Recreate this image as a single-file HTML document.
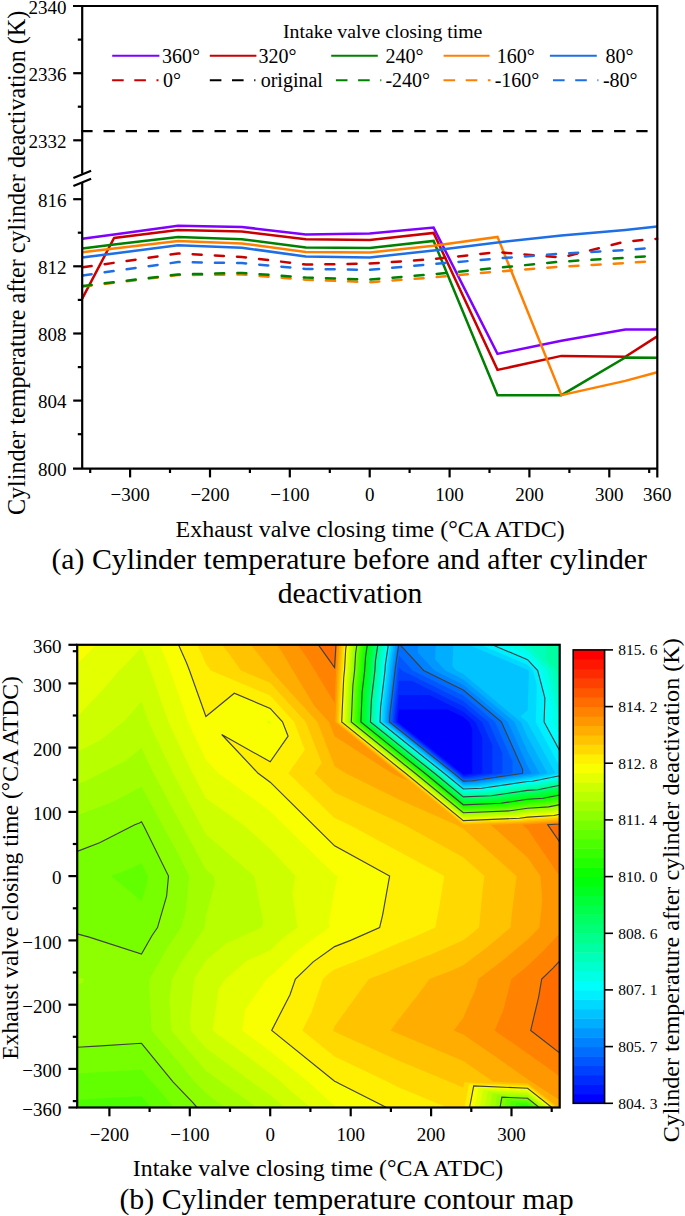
<!DOCTYPE html>
<html><head><meta charset="utf-8"><style>
html,body{margin:0;padding:0;background:#fff;width:685px;height:1216px;overflow:hidden;}
svg{display:block;}
text{font-family:"Liberation Serif",serif;}
</style></head><body>
<svg width="685" height="1216" viewBox="0 0 685 1216">
<rect width="685" height="1216" fill="#fff"/>
<g fill="none" stroke-width="2.5" stroke-linejoin="miter">
<polyline stroke="#8000ff" points="82.2,238.7 114.1,234.4 178,225.8 241.9,227 305.8,234.4 369.7,233.5 433.6,227.6 497.5,353.9 561.4,340.8 625.3,329.4 657.2,329.4"/>
<polyline stroke="#c80000" points="82.2,298.6 114.1,237.9 178,230 241.9,231.6 305.8,239.3 369.7,240.1 433.6,232.9 497.5,369.9 561.4,355.9 625.3,356.7 657.2,336.4"/>
<polyline stroke="#008000" points="82.2,248.4 114.1,244.6 178,236.9 241.9,239.3 305.8,247.4 369.7,248 433.6,240.9 497.5,395.2 561.4,395.2 625.3,357.5 657.2,357.8"/>
<polyline stroke="#ff8000" points="82.2,252.3 114.1,248.5 178,240.9 241.9,243.4 305.8,251.9 369.7,252.6 433.6,245.8 497.5,236.9 561.4,395.1 625.3,380.9 657.2,372.3"/>
<polyline stroke="#1e6fe6" points="82.2,257.5 114.1,253.4 178,245.2 241.9,247.7 305.8,256.6 369.7,257.5 433.6,250.4 497.5,242.4 561.4,235.6 625.3,230 657.2,226.5"/>
<polyline stroke="#c80000" stroke-dasharray="9 13.2" stroke-dashoffset="-0.5" stroke-linecap="round" points="82.2,267.4 114.1,262.8 178,253.5 241.9,256.9 305.8,264.6 369.7,263.6 433.6,259.1 497.5,252.1 561.4,257.5 625.3,241.6 657.2,238.8"/>
<polyline stroke="#ff8000" stroke-dasharray="9 13.2" stroke-dashoffset="-0.5" stroke-linecap="round" points="82.2,286.6 114.1,282.8 178,275.1 241.9,274.5 305.8,279.7 369.7,282.2 433.6,277.4 497.5,271.6 561.4,266.6 625.3,263 657.2,261"/>
<polyline stroke="#008000" stroke-dasharray="9 13.2" stroke-dashoffset="-0.5" stroke-linecap="round" points="82.2,286.1 114.1,282.2 178,274.5 241.9,272.9 305.8,277.6 369.7,279.6 433.6,274.2 497.5,267.8 561.4,261.6 625.3,257.8 657.2,255.7"/>
<polyline stroke="#1e6fe6" stroke-dasharray="9 13.2" stroke-dashoffset="-0.5" stroke-linecap="round" points="82.2,275.5 114.1,271 178,262.1 241.9,263.1 305.8,268.9 369.7,269.9 433.6,264.1 497.5,258.5 561.4,253.7 625.3,250 657.2,247.6"/>
<line x1="81.3" y1="131.2" x2="657.3" y2="131.2" stroke="#000" stroke-width="2.3" stroke-dasharray="11.3 10.9"/>
</g>
<g stroke="#000" stroke-width="2.2" fill="none">
<path d="M73,6 H657.3 V477.4 M657.3,468.6 H73 M82.2,6 V173.8 M82.2,182.5 V468.6"/>
<path d="M73.2,73.2 H82.2"/>
<path d="M73.2,140.3 H82.2"/>
<path d="M73.2,199.2 H82.2"/>
<path d="M73.2,266.3 H82.2"/>
<path d="M73.2,333.5 H82.2"/>
<path d="M73.2,400.6 H82.2"/>
<path d="M77.8,39.6 H82.2"/>
<path d="M77.8,106.7 H82.2"/>
<path d="M77.8,232.7 H82.2"/>
<path d="M77.8,299.9 H82.2"/>
<path d="M77.8,367.1 H82.2"/>
<path d="M77.8,434.2 H82.2"/>
<path d="M130.1,468.6 V477.4"/>
<path d="M210,468.6 V477.4"/>
<path d="M289.8,468.6 V477.4"/>
<path d="M369.7,468.6 V477.4"/>
<path d="M449.6,468.6 V477.4"/>
<path d="M529.4,468.6 V477.4"/>
<path d="M609.3,468.6 V477.4"/>
<path d="M90.2,468.6 V473"/>
<path d="M170,468.6 V473"/>
<path d="M249.9,468.6 V473"/>
<path d="M329.8,468.6 V473"/>
<path d="M409.6,468.6 V473"/>
<path d="M489.5,468.6 V473"/>
<path d="M569.4,468.6 V473"/>
<path d="M649.2,468.6 V473"/>
<path d="M73.4,178.1 L91.1,170.7 M73.4,186.1 L91.1,178.7"/>
</g>
<g font-family="Liberation Serif, serif" font-size="19" text-anchor="end" fill="#000">
<text x="66.5" y="13.8">2340</text>
<text x="66.5" y="81">2336</text>
<text x="66.5" y="148.1">2332</text>
<text x="66.5" y="207">816</text>
<text x="66.5" y="274.1">812</text>
<text x="66.5" y="341.3">808</text>
<text x="66.5" y="408.4">804</text>
<text x="66.5" y="475.6">800</text>
</g>
<g font-family="Liberation Serif, serif" font-size="19" text-anchor="middle" fill="#000">
<text x="130.1" y="501">−300</text>
<text x="210" y="501">−200</text>
<text x="289.8" y="501">−100</text>
<text x="369.7" y="501">0</text>
<text x="449.6" y="501">100</text>
<text x="529.4" y="501">200</text>
<text x="609.3" y="501">300</text>
<text x="657.2" y="501">360</text>
</g>
<g font-family="Liberation Serif, serif" fill="#000">
<text x="283" y="38.2" font-size="19.8">Intake valve closing time</text>
<line x1="112.2" y1="55.8" x2="159.4" y2="55.8" stroke="#8000ff" stroke-width="2.1"/>
<text x="162.1" y="62.6" font-size="20">360°</text>
<line x1="209.8" y1="55.8" x2="256.4" y2="55.8" stroke="#c80000" stroke-width="2.1"/>
<text x="258.4" y="62.6" font-size="20">320°</text>
<line x1="331.2" y1="55.8" x2="377.8" y2="55.8" stroke="#008000" stroke-width="2.1"/>
<text x="385.6" y="62.6" font-size="20">240°</text>
<line x1="443.6" y1="55.8" x2="489.6" y2="55.8" stroke="#ff8000" stroke-width="2.1"/>
<text x="496.7" y="62.6" font-size="20">160°</text>
<line x1="549.9" y1="55.8" x2="596.8" y2="55.8" stroke="#1e6fe6" stroke-width="2.1"/>
<text x="605.4" y="62.6" font-size="20">80°</text>
<line x1="112.1" y1="80.3" x2="158.5" y2="80.3" stroke="#c80000" stroke-width="2.1" stroke-dasharray="11.6 10.6"/>
<text x="163" y="86.8" font-size="20">0°</text>
<line x1="209.8" y1="80.3" x2="255.4" y2="80.3" stroke="#000" stroke-width="2.1" stroke-dasharray="11.6 10.6"/>
<text x="260.7" y="86.8" font-size="20">original</text>
<line x1="335.9" y1="80.3" x2="381.3" y2="80.3" stroke="#008000" stroke-width="2.1" stroke-dasharray="11.6 10.6"/>
<text x="385.4" y="86.8" font-size="20">-240°</text>
<line x1="443.5" y1="80.3" x2="490.5" y2="80.3" stroke="#ff8000" stroke-width="2.1" stroke-dasharray="11.6 10.6"/>
<text x="494.7" y="86.8" font-size="20">-160°</text>
<line x1="553" y1="80.3" x2="598.4" y2="80.3" stroke="#1e6fe6" stroke-width="2.1" stroke-dasharray="11.6 10.6"/>
<text x="602.9" y="86.8" font-size="20">-80°</text>
</g>
<text font-family="Liberation Serif, serif" x="370.2" y="537" font-size="23.95" text-anchor="middle">Exhaust valve closing time (°CA ATDC)</text>
<text font-family="Liberation Serif, serif" transform="translate(24.6,262.9) rotate(-90)" font-size="24.13" text-anchor="middle">Cylinder temperature after cylinder deactivation (K)</text>
<text font-family="Liberation Serif, serif" x="349.2" y="568.5" font-size="29.8" text-anchor="middle">(a) Cylinder temperature before and after cylinder</text>
<text font-family="Liberation Serif, serif" x="350" y="602.8" font-size="29.6" text-anchor="middle">deactivation</text>
<defs><clipPath id="cp"><rect x="77.2" y="644.8" width="482.5" height="462.7"/></clipPath></defs>
<g clip-path="url(#cp)">
<rect x="77.2" y="644.8" width="482.5" height="462.7" fill="#0000ff"/>
<path fill="#0016ff" d="M141.5,1107.5L77.2,1107.5L77.2,1081.8L77.2,1030.4L77.2,979L77.2,927.6L77.2,876.1L77.2,824.7L77.2,773.3L77.2,721.9L77.2,670.5L77.2,644.8L141.5,644.8L205.9,644.8L270.2,644.8L334.6,644.8L398.9,644.8L463.3,644.8L527.6,644.8L559.8,644.8L559.8,670.5L559.8,721.9L559.8,773.3L559.8,824.7L559.8,876.1L559.8,927.6L559.8,979L559.8,1030.4L559.8,1081.8L559.8,1107.5L527.6,1107.5L463.3,1107.5L398.9,1107.5L334.6,1107.5L270.2,1107.5L205.9,1107.5ZM398.9,723L461.8,773.3L463.3,774.5L464.7,774.5L472.3,773.3L472.3,729.1L469.1,721.9L463.3,717.1L447.3,709.2L398.9,709.4L397.6,720.9L397.5,721.9Z"/>
<path fill="#002bff" d="M141.5,1107.5L77.2,1107.5L77.2,1081.8L77.2,1030.4L77.2,979L77.2,927.6L77.2,876.1L77.2,824.7L77.2,773.3L77.2,721.9L77.2,670.5L77.2,644.8L141.5,644.8L205.9,644.8L270.2,644.8L334.6,644.8L398.9,644.8L463.3,644.8L527.6,644.8L559.8,644.8L559.8,670.5L559.8,721.9L559.8,773.3L559.8,824.7L559.8,876.1L559.8,927.6L559.8,979L559.8,1030.4L559.8,1081.8L559.8,1107.5L527.6,1107.5L463.3,1107.5L398.9,1107.5L334.6,1107.5L270.2,1107.5L205.9,1107.5ZM398.9,724.3L460.2,773.3L463.3,775.8L466.2,775.7L482.3,773.3L482.3,737.2L475.5,721.9L463.3,711.7L429.5,695L398.9,695.1L396,719.6L395.9,721.9Z"/>
<path fill="#0041ff" d="M141.5,1107.5L77.2,1107.5L77.2,1081.8L77.2,1030.4L77.2,979L77.2,927.6L77.2,876.1L77.2,824.7L77.2,773.3L77.2,721.9L77.2,670.5L77.2,644.8L141.5,644.8L205.9,644.8L270.2,644.8L334.6,644.8L398.9,644.8L463.3,644.8L527.6,644.8L559.8,644.8L559.8,670.5L559.8,721.9L559.8,773.3L559.8,824.7L559.8,876.1L559.8,927.6L559.8,979L559.8,1030.4L559.8,1081.8L559.8,1107.5L527.6,1107.5L463.3,1107.5L398.9,1107.5L334.6,1107.5L270.2,1107.5L205.9,1107.5ZM398.9,725.6L458.6,773.3L463.3,777.2L467.8,777L492.4,773.3L492.4,745.2L482,721.9L463.3,706.3L411.7,680.7L398.9,680.8L394.5,718.4L394.3,721.9Z"/>
<path fill="#0057ff" d="M141.5,1107.5L77.2,1107.5L77.2,1081.8L77.2,1030.4L77.2,979L77.2,927.6L77.2,876.1L77.2,824.7L77.2,773.3L77.2,721.9L77.2,670.5L77.2,644.8L141.5,644.8L205.9,644.8L270.2,644.8L334.6,644.8L398.9,644.8L463.3,644.8L527.6,644.8L559.8,644.8L559.8,670.5L559.8,721.9L559.8,773.3L559.8,824.7L559.8,876.1L559.8,927.6L559.8,979L559.8,1030.4L559.8,1081.8L559.8,1107.5L527.6,1107.5L463.3,1107.5L398.9,1107.5L334.6,1107.5L270.2,1107.5L205.9,1107.5ZM398.9,726.9L457,773.3L463.3,778.5L469.4,778.2L502.4,773.3L502.4,753.2L488.5,721.9L463.3,700.9L402,670.5L398.9,667.2L398.5,670.3L398.4,670.5L393,717.2L392.7,721.9Z"/>
<path fill="#006dff" d="M141.5,1107.5L77.2,1107.5L77.2,1081.8L77.2,1030.4L77.2,979L77.2,927.6L77.2,876.1L77.2,824.7L77.2,773.3L77.2,721.9L77.2,670.5L77.2,644.8L141.5,644.8L205.9,644.8L270.2,644.8L334.6,644.8L398.9,644.8L463.3,644.8L527.6,644.8L559.8,644.8L559.8,670.5L559.8,721.9L559.8,773.3L559.8,824.7L559.8,876.1L559.8,927.6L559.8,979L559.8,1030.4L559.8,1081.8L559.8,1107.5L527.6,1107.5L463.3,1107.5L398.9,1107.5L334.6,1107.5L270.2,1107.5L205.9,1107.5ZM398.9,728.2L455.4,773.3L463.3,779.8L470.9,779.5L512.5,773.3L512.5,761.3L495,721.9L463.3,695.5L412.8,670.5L398.9,655.4L396.8,669.7L396.8,670.5L391.4,715.9L391.2,721.9Z"/>
<path fill="#0082ff" d="M398.7,644.8L395.2,669L395.1,670.5L389.9,714.7L389.6,721.9L398.9,729.5L453.8,773.3L463.3,781.1L472.5,780.7L522.6,773.3L522.6,769.3L501.4,721.9L463.3,690.1L423.7,670.5L400.7,645.5L400.8,644.8L463.3,644.8L527.6,644.8L559.8,644.8L559.8,670.5L559.8,721.9L559.8,773.3L559.8,824.7L559.8,876.1L559.8,927.6L559.8,979L559.8,1030.4L559.8,1081.8L559.8,1107.5L527.6,1107.5L463.3,1107.5L398.9,1107.5L334.6,1107.5L270.2,1107.5L205.9,1107.5L141.5,1107.5L77.2,1107.5L77.2,1081.8L77.2,1030.4L77.2,979L77.2,927.6L77.2,876.1L77.2,824.7L77.2,773.3L77.2,721.9L77.2,670.5L77.2,644.8L141.5,644.8L205.9,644.8L270.2,644.8L334.6,644.8Z"/>
<path fill="#0098ff" d="M397,644.8L393.5,668.4L393.4,670.5L388.3,713.5L388,721.9L398.9,730.8L452.2,773.3L463.3,782.4L474.1,782L527.6,774.1L528.1,774L531.6,773.3L527.6,766.1L507.9,721.9L463.3,684.7L434.6,670.5L417.9,652.4L418.3,644.8L463.3,644.8L527.6,644.8L559.8,644.8L559.8,670.5L559.8,721.9L559.8,773.3L559.8,824.7L559.8,876.1L559.8,927.6L559.8,979L559.8,1030.4L559.8,1081.8L559.8,1107.5L527.6,1107.5L463.3,1107.5L398.9,1107.5L334.6,1107.5L270.2,1107.5L205.9,1107.5L141.5,1107.5L77.2,1107.5L77.2,1081.8L77.2,1030.4L77.2,979L77.2,927.6L77.2,876.1L77.2,824.7L77.2,773.3L77.2,721.9L77.2,670.5L77.2,644.8L141.5,644.8L205.9,644.8L270.2,644.8L334.6,644.8Z"/>
<path fill="#00aeff" d="M395.2,644.8L391.9,667.7L391.7,670.5L386.8,712.2L386.4,721.9L398.9,732L450.6,773.3L463.3,783.7L475.6,783.2L527.6,775.6L528.9,775.5L539.5,773.3L527.6,751.6L514.4,721.9L463.3,679.4L445.4,670.5L435.1,659.3L435.8,644.8L463.3,644.8L527.6,644.8L559.8,644.8L559.8,670.5L559.8,721.9L559.8,773.3L559.8,824.7L559.8,876.1L559.8,927.6L559.8,979L559.8,1030.4L559.8,1081.8L559.8,1107.5L527.6,1107.5L463.3,1107.5L398.9,1107.5L334.6,1107.5L270.2,1107.5L205.9,1107.5L141.5,1107.5L77.2,1107.5L77.2,1081.8L77.2,1030.4L77.2,979L77.2,927.6L77.2,876.1L77.2,824.7L77.2,773.3L77.2,721.9L77.2,670.5L77.2,644.8L141.5,644.8L205.9,644.8L270.2,644.8L334.6,644.8Z"/>
<path fill="#00c3ff" d="M393.5,644.8L390.2,667L390,670.5L385.3,711L384.8,721.9L398.9,733.3L449,773.3L463.3,785.1L477.2,784.5L527.6,777L529.8,776.9L547.5,773.3L527.6,737.1L520.8,721.9L463.3,674L456.3,670.5L452.3,666.1L453.4,644.8L463.3,644.8L527.6,644.8L559.8,644.8L559.8,670.5L559.8,721.9L559.8,773.3L559.8,824.7L559.8,876.1L559.8,927.6L559.8,979L559.8,1030.4L559.8,1081.8L559.8,1107.5L527.6,1107.5L463.3,1107.5L398.9,1107.5L334.6,1107.5L270.2,1107.5L205.9,1107.5L141.5,1107.5L77.2,1107.5L77.2,1081.8L77.2,1030.4L77.2,979L77.2,927.6L77.2,876.1L77.2,824.7L77.2,773.3L77.2,721.9L77.2,670.5L77.2,644.8L141.5,644.8L205.9,644.8L270.2,644.8L334.6,644.8Z"/>
<path fill="#00d9ff" d="M391.8,644.8L388.6,666.4L388.3,670.5L383.7,709.8L383.2,721.9L398.9,734.6L447.4,773.3L463.3,786.4L478.8,785.7L527.6,778.5L530.7,778.3L555.4,773.3L527.6,722.6L527.3,721.9L520.5,716.3L527.6,710.6L528.9,672.5L528.3,670.5L527.6,669.7L468.4,644.8L527.6,644.8L559.8,644.8L559.8,670.5L559.8,721.9L559.8,773.3L559.8,824.7L559.8,876.1L559.8,927.6L559.8,979L559.8,1030.4L559.8,1081.8L559.8,1107.5L527.6,1107.5L463.3,1107.5L398.9,1107.5L334.6,1107.5L270.2,1107.5L205.9,1107.5L141.5,1107.5L77.2,1107.5L77.2,1081.8L77.2,1030.4L77.2,979L77.2,927.6L77.2,876.1L77.2,824.7L77.2,773.3L77.2,721.9L77.2,670.5L77.2,644.8L141.5,644.8L205.9,644.8L270.2,644.8L334.6,644.8Z"/>
<path fill="#00efff" d="M390,644.8L386.9,665.7L386.6,670.5L382.2,708.5L381.6,721.9L398.9,735.9L445.8,773.3L463.3,787.7L480.3,787L527.6,780L531.6,779.8L559.8,774.1L559.8,824.7L559.8,876.1L559.8,927.6L559.8,979L559.8,1030.4L559.8,1081.8L559.8,1107.5L527.6,1107.5L463.3,1107.5L398.9,1107.5L334.6,1107.5L270.2,1107.5L205.9,1107.5L141.5,1107.5L77.2,1107.5L77.2,1081.8L77.2,1030.4L77.2,979L77.2,927.6L77.2,876.1L77.2,824.7L77.2,773.3L77.2,721.9L77.2,670.5L77.2,644.8L141.5,644.8L205.9,644.8L270.2,644.8L334.6,644.8ZM559.8,766.4L535.7,721.9L536.9,685.3L533,670.5L527.6,664.7L480.3,644.8L527.6,644.8L559.8,644.8L559.8,670.5L559.8,721.9Z"/>
<path fill="#00fffa" d="M388.3,644.8L385.3,665.1L385,670.5L380.6,707.3L380,721.9L398.9,737.2L444.1,773.3L463.3,789L481.9,788.2L527.6,781.5L532.5,781.2L559.8,775.7L559.8,824.7L559.8,876.1L559.8,927.6L559.8,979L559.8,1030.4L559.8,1081.8L559.8,1107.5L527.6,1107.5L463.3,1107.5L398.9,1107.5L334.6,1107.5L270.2,1107.5L205.9,1107.5L141.5,1107.5L77.2,1107.5L77.2,1081.8L77.2,1030.4L77.2,979L77.2,927.6L77.2,876.1L77.2,824.7L77.2,773.3L77.2,721.9L77.2,670.5L77.2,644.8L141.5,644.8L205.9,644.8L270.2,644.8L334.6,644.8ZM559.8,750.9L544.1,721.9L544.9,698.1L537.7,670.5L527.6,659.7L492.2,644.8L527.6,644.8L559.8,644.8L559.8,670.5L559.8,721.9Z"/>
<path fill="#00ffe4" d="M386.5,644.8L383.6,664.4L383.3,670.5L379.1,706.1L378.4,721.9L398.9,738.5L442.5,773.3L463.3,790.3L483.5,789.5L527.6,783L533.4,782.6L559.8,777.3L559.8,824.7L559.8,876.1L559.8,927.6L559.8,979L559.8,1030.4L559.8,1081.8L559.8,1107.5L527.6,1107.5L463.3,1107.5L398.9,1107.5L334.6,1107.5L270.2,1107.5L205.9,1107.5L141.5,1107.5L77.2,1107.5L77.2,1081.8L77.2,1030.4L77.2,979L77.2,927.6L77.2,876.1L77.2,824.7L77.2,773.3L77.2,721.9L77.2,670.5L77.2,644.8L141.5,644.8L205.9,644.8L270.2,644.8L334.6,644.8ZM559.8,735.3L552.5,721.9L552.9,710.9L542.3,670.5L527.6,654.7L504.1,644.8L527.6,644.8L559.8,644.8L559.8,670.5L559.8,721.9Z"/>
<path fill="#00ffce" d="M384.8,644.8L382,663.8L381.6,670.5L377.5,704.9L376.8,721.9L398.9,739.7L440.9,773.3L463.3,791.6L485,790.7L527.6,784.5L534.3,784L559.8,778.9L559.8,824.7L559.8,876.1L559.8,927.6L559.8,979L559.8,1030.4L559.8,1081.8L559.8,1107.5L527.6,1107.5L463.3,1107.5L398.9,1107.5L334.6,1107.5L270.2,1107.5L205.9,1107.5L141.5,1107.5L77.2,1107.5L77.2,1081.8L77.2,1030.4L77.2,979L77.2,927.6L77.2,876.1L77.2,824.7L77.2,773.3L77.2,721.9L77.2,670.5L77.2,644.8L141.5,644.8L205.9,644.8L270.2,644.8L334.6,644.8ZM559.8,719.5L547,670.5L527.6,649.7L516,644.8L527.6,644.8L559.8,644.8L559.8,670.5Z"/>
<path fill="#00ffb8" d="M383,644.8L380.3,663.1L379.9,670.5L376,703.6L375.2,721.9L398.9,741L439.3,773.3L463.3,793L486.6,792L527.6,785.9L535.2,785.5L559.8,780.5L559.8,824.7L559.8,876.1L559.8,927.6L559.8,979L559.8,1030.4L559.8,1081.8L559.8,1107.5L527.6,1107.5L463.3,1107.5L398.9,1107.5L334.6,1107.5L270.2,1107.5L205.9,1107.5L141.5,1107.5L77.2,1107.5L77.2,1081.8L77.2,1030.4L77.2,979L77.2,927.6L77.2,876.1L77.2,824.7L77.2,773.3L77.2,721.9L77.2,670.5L77.2,644.8L141.5,644.8L205.9,644.8L270.2,644.8L334.6,644.8ZM559.8,701.7L551.6,670.5L528,645.1L528,644.8L559.8,644.8L559.8,670.5Z"/>
<path fill="#00ffa3" d="M381.3,644.8L378.7,662.4L378.2,670.5L374.5,702.4L373.6,721.9L398.9,742.3L437.7,773.3L463.3,794.3L488.2,793.2L527.6,787.4L536.1,786.9L559.8,782.1L559.8,824.7L559.8,876.1L559.8,927.6L559.8,979L559.8,1030.4L559.8,1081.8L559.8,1107.5L527.6,1107.5L463.3,1107.5L398.9,1107.5L334.6,1107.5L270.2,1107.5L205.9,1107.5L141.5,1107.5L77.2,1107.5L77.2,1081.8L77.2,1030.4L77.2,979L77.2,927.6L77.2,876.1L77.2,824.7L77.2,773.3L77.2,721.9L77.2,670.5L77.2,644.8L141.5,644.8L205.9,644.8L270.2,644.8L334.6,644.8ZM559.8,683.9L556.3,670.5L546.2,659.6L546.2,644.8L559.8,644.8L559.8,670.5Z"/>
<path fill="#00ff8d" d="M379.5,644.8L377,661.8L376.5,670.5L372.9,701.2L372,721.9L398.9,743.6L436.1,773.3L463.3,795.6L489.7,794.5L527.6,788.9L537,788.3L559.8,783.7L559.8,824.7L559.8,876.1L559.8,927.6L559.8,979L559.8,1030.4L559.8,1081.8L559.8,1107.5L527.6,1107.5L463.3,1107.5L398.9,1107.5L334.6,1107.5L270.2,1107.5L205.9,1107.5L141.5,1107.5L77.2,1107.5L77.2,1081.8L77.2,1030.4L77.2,979L77.2,927.6L77.2,876.1L77.2,824.7L77.2,773.3L77.2,721.9L77.2,670.5L77.2,644.8L141.5,644.8L205.9,644.8L270.2,644.8L334.6,644.8Z"/>
<path fill="#00ff77" d="M377.8,644.8L375.4,661.1L374.9,670.5L371.4,699.9L370.4,721.9L398.9,744.9L434.5,773.3L463.3,796.9L491.3,795.7L527.6,790.4L537.9,789.8L559.8,785.3L559.8,824.7L559.8,876.1L559.8,927.6L559.8,979L559.8,1030.4L559.8,1081.8L559.8,1107.5L527.6,1107.5L463.3,1107.5L398.9,1107.5L334.6,1107.5L270.2,1107.5L205.9,1107.5L141.5,1107.5L77.2,1107.5L77.2,1081.8L77.2,1030.4L77.2,979L77.2,927.6L77.2,876.1L77.2,824.7L77.2,773.3L77.2,721.9L77.2,670.5L77.2,644.8L141.5,644.8L205.9,644.8L270.2,644.8L334.6,644.8Z"/>
<path fill="#00ff62" d="M376.1,644.8L373.8,660.5L373.2,670.5L369.8,698.7L368.8,721.9L398.9,746.2L432.9,773.3L463.3,798.2L492.9,797L527.6,791.9L538.8,791.2L559.8,786.9L559.8,824.7L559.8,876.1L559.8,927.6L559.8,979L559.8,1030.4L559.8,1081.8L559.8,1107.5L527.6,1107.5L463.3,1107.5L398.9,1107.5L334.6,1107.5L270.2,1107.5L205.9,1107.5L141.5,1107.5L77.2,1107.5L77.2,1081.8L77.2,1030.4L77.2,979L77.2,927.6L77.2,876.1L77.2,824.7L77.2,773.3L77.2,721.9L77.2,670.5L77.2,644.8L141.5,644.8L205.9,644.8L270.2,644.8L334.6,644.8Z"/>
<path fill="#00ff4c" d="M374.3,644.8L372.1,659.8L371.5,670.5L368.3,697.5L367.2,721.9L398.9,747.5L431.3,773.3L463.3,799.5L494.4,798.2L527.6,793.4L539.7,792.6L559.8,788.5L559.8,824.7L559.8,876.1L559.8,927.6L559.8,979L559.8,1030.4L559.8,1081.8L559.8,1107.5L527.6,1107.5L463.3,1107.5L398.9,1107.5L334.6,1107.5L270.2,1107.5L205.9,1107.5L141.5,1107.5L77.2,1107.5L77.2,1081.8L77.2,1030.4L77.2,979L77.2,927.6L77.2,876.1L77.2,824.7L77.2,773.3L77.2,721.9L77.2,670.5L77.2,644.8L141.5,644.8L205.9,644.8L270.2,644.8L334.6,644.8Z"/>
<path fill="#00ff36" d="M372.6,644.8L370.5,659.1L369.8,670.5L366.8,696.2L365.6,721.9L398.9,748.7L429.7,773.3L463.3,800.9L496,799.5L527.6,794.8L540.6,794L559.8,790.1L559.8,824.7L559.8,876.1L559.8,927.6L559.8,979L559.8,1030.4L559.8,1081.8L559.8,1107.5L527.6,1107.5L463.3,1107.5L398.9,1107.5L334.6,1107.5L270.2,1107.5L205.9,1107.5L141.5,1107.5L77.2,1107.5L77.2,1081.8L77.2,1030.4L77.2,979L77.2,927.6L77.2,876.1L77.2,824.7L77.2,773.3L77.2,721.9L77.2,670.5L77.2,644.8L141.5,644.8L205.9,644.8L270.2,644.8L334.6,644.8Z"/>
<path fill="#00ff21" d="M370.8,644.8L368.8,658.5L368.1,670.5L365.2,695L364,721.9L398.9,750L428.1,773.3L463.3,802.2L497.6,800.8L527.6,796.3L541.5,795.5L559.8,791.8L559.8,824.7L559.8,876.1L559.8,927.6L559.8,979L559.8,1030.4L559.8,1081.8L559.8,1107.5L527.6,1107.5L463.3,1107.5L398.9,1107.5L334.6,1107.5L270.2,1107.5L205.9,1107.5L141.5,1107.5L77.2,1107.5L77.2,1081.8L77.2,1030.4L77.2,979L77.2,927.6L77.2,876.1L77.2,824.7L77.2,773.3L77.2,721.9L77.2,670.5L77.2,644.8L141.5,644.8L205.9,644.8L270.2,644.8L334.6,644.8Z"/>
<path fill="#00ff0b" d="M369.1,644.8L367.2,657.8L366.4,670.5L363.7,693.8L362.4,721.9L398.9,751.3L426.5,773.3L463.3,803.5L499.1,802L527.6,797.8L542.4,796.9L559.8,793.4L559.8,824.7L559.8,876.1L559.8,927.6L559.8,979L559.8,1030.4L559.8,1081.8L559.8,1107.5L527.6,1107.5L463.3,1107.5L398.9,1107.5L334.6,1107.5L270.2,1107.5L205.9,1107.5L141.5,1107.5L77.2,1107.5L77.2,1081.8L77.2,1030.4L77.2,979L77.2,927.6L77.2,876.1L77.2,824.7L77.2,773.3L77.2,721.9L77.2,670.5L77.2,644.8L141.5,644.8L205.9,644.8L270.2,644.8L334.6,644.8Z"/>
<path fill="#0bff00" d="M367.3,644.8L365.5,657.2L364.7,670.5L362.1,692.5L360.9,721.9L398.9,752.6L424.9,773.3L463.3,804.8L500.7,803.3L527.6,799.3L543.2,798.3L559.8,795L559.8,824.7L559.8,876.1L559.8,927.6L559.8,979L559.8,1030.4L559.8,1081.8L559.8,1107.5L527.6,1107.5L463.3,1107.5L398.9,1107.5L334.6,1107.5L270.2,1107.5L205.9,1107.5L141.5,1107.5L77.2,1107.5L77.2,1081.8L77.2,1030.4L77.2,979L77.2,927.6L77.2,876.1L77.2,824.7L77.2,773.3L77.2,721.9L77.2,670.5L77.2,644.8L141.5,644.8L205.9,644.8L270.2,644.8L334.6,644.8Z"/>
<path fill="#21ff00" d="M365.6,644.8L363.9,656.5L363.1,670.5L360.6,691.3L359.3,721.9L398.9,753.9L423.3,773.3L463.3,806.1L502.3,804.5L527.6,800.8L544.1,799.7L559.8,796.6L559.8,824.7L559.8,876.1L559.8,927.6L559.8,979L559.8,1030.4L559.8,1081.8L559.8,1107.5L528.6,1107.5L527.6,1106.7L525.4,1106.6L525.3,1107.5L463.3,1107.5L398.9,1107.5L334.6,1107.5L270.2,1107.5L205.9,1107.5L141.5,1107.5L77.2,1107.5L77.2,1081.8L77.2,1030.4L77.2,979L77.2,927.6L77.2,876.1L77.2,824.7L77.2,773.3L77.2,721.9L77.2,670.5L77.2,644.8L141.5,644.8L205.9,644.8L270.2,644.8L334.6,644.8Z"/>
<path fill="#36ff00" d="M363.9,644.8L362.2,655.9L361.4,670.5L359.1,690.1L357.7,721.9L398.9,755.2L421.7,773.3L463.3,807.4L503.8,805.8L527.6,802.3L545,801.2L559.8,798.2L559.8,824.7L559.8,876.1L559.8,927.6L559.8,979L559.8,1030.4L559.8,1081.8L559.8,1107.5L530.7,1107.5L527.6,1105L520.7,1104.7L520.2,1107.5L463.3,1107.5L398.9,1107.5L334.6,1107.5L270.2,1107.5L205.9,1107.5L141.5,1107.5L77.2,1107.5L77.2,1081.8L77.2,1030.4L77.2,979L77.2,927.6L77.2,876.1L77.2,824.7L77.2,773.3L77.2,721.9L77.2,670.5L77.2,644.8L141.5,644.8L205.9,644.8L270.2,644.8L334.6,644.8Z"/>
<path fill="#4cff00" d="M362.1,644.8L360.6,655.2L359.7,670.5L357.5,688.9L356.1,721.9L398.9,756.4L420,773.3L463.3,808.8L505.4,807L527.6,803.7L545.9,802.6L559.8,799.8L559.8,824.7L559.8,876.1L559.8,927.6L559.8,979L559.8,1030.4L559.8,1081.8L559.8,1107.5L532.8,1107.5L527.6,1103.4L516,1102.9L515.2,1107.5L463.3,1107.5L398.9,1107.5L334.6,1107.5L270.2,1107.5L205.9,1107.5L141.5,1107.5L77.2,1107.5L77.2,1081.8L77.2,1030.4L77.2,979L77.2,927.6L77.2,876.1L77.2,824.7L77.2,773.3L77.2,721.9L77.2,670.5L77.2,644.8L141.5,644.8L205.9,644.8L270.2,644.8L334.6,644.8Z"/>
<path fill="#62ff00" d="M360.4,644.8L358.9,654.5L358,670.5L356,687.6L354.5,721.9L398.9,757.7L418.4,773.3L463.3,810.1L507,808.3L527.6,805.2L546.8,804L559.8,801.4L559.8,824.7L559.8,876.1L559.8,927.6L559.8,979L559.8,1030.4L559.8,1081.8L559.8,1107.5L535,1107.5L527.6,1101.7L511.3,1101L510.1,1107.5L463.3,1107.5L398.9,1107.5L334.6,1107.5L270.2,1107.5L205.9,1107.5L151.2,1107.5L141.5,1096.3L116.9,1097.6L77.2,1099.7L77.2,1081.8L77.2,1030.4L77.2,979L77.2,927.6L77.2,876.1L77.2,824.7L77.2,773.3L77.2,721.9L77.2,670.5L77.2,644.8L141.5,644.8L205.9,644.8L270.2,644.8L334.6,644.8Z"/>
<path fill="#77ff00" d="M358.6,644.8L357.3,653.9L356.3,670.5L354.4,686.4L352.9,721.9L398.9,759L416.8,773.3L463.3,811.4L508.5,809.5L527.6,806.7L547.7,805.5L559.8,803L559.8,824.7L559.8,876.1L559.8,927.6L559.8,979L559.8,1030.4L559.8,1081.8L559.8,1107.5L537.1,1107.5L527.6,1100L506.6,1099.1L505,1107.5L463.3,1107.5L398.9,1107.5L334.6,1107.5L270.2,1107.5L205.9,1107.5L174.1,1107.5L157.4,1088.1L151.4,1081.8L141.5,1069.8L127.6,1070.6L77.2,1073.4L77.2,1030.4L77.2,979L77.2,927.6L77.2,876.1L77.2,824.7L77.2,773.3L77.2,721.9L77.2,670.5L77.2,644.8L141.5,644.8L205.9,644.8L270.2,644.8L334.6,644.8ZM141.5,901.3L147.5,880.9L147.9,876.1L141.5,863.2L131.6,868.2L111.3,876.1Z"/>
<path fill="#8dff00" d="M77.2,933.9L89.2,937.1L141.5,954L151.9,935.8L157.5,927.6L166.6,896.2L168.5,876.1L144.3,827L143.1,824.7L141.5,821.8L139.4,823L134.8,824.7L99.6,842.7L77.2,851.4L77.2,824.7L77.2,773.3L77.2,721.9L77.2,670.5L77.2,644.8L141.5,644.8L205.9,644.8L270.2,644.8L334.6,644.8L356.9,644.8L355.6,653.2L354.6,670.5L352.9,685.2L351.3,721.9L398.9,760.3L415.2,773.3L463.3,812.7L510.1,810.8L527.6,808.2L548.6,806.9L559.8,804.6L559.8,824.7L559.8,876.1L559.8,927.6L559.8,979L559.8,1030.4L559.8,1081.8L559.8,1107.5L539.2,1107.5L527.6,1098.3L501.9,1097.2L500,1107.5L463.3,1107.5L398.9,1107.5L334.6,1107.5L270.2,1107.5L205.9,1107.5L197.1,1107.5L192.4,1102.1L173,1081.8L141.5,1043.3L96.8,1046.1L77.2,1047.2L77.2,1030.4L77.2,979Z"/>
<path fill="#a3ff00" d="M77.2,977.1L84.1,979L82.2,983L77.2,984.5L77.2,979ZM355.1,644.8L354,652.6L352.9,670.5L351.4,683.9L349.7,721.9L398.9,761.6L413.6,773.3L463.3,814L511.7,812L527.6,809.7L549.5,808.3L559.8,806.2L559.8,824.7L559.8,876.1L559.8,927.6L559.8,979L559.8,1030.4L559.8,1081.8L559.8,1107.5L541.3,1107.5L527.6,1096.7L497.2,1095.3L494.9,1107.5L463.3,1107.5L398.9,1107.5L334.6,1107.5L270.2,1107.5L225.2,1107.5L205.9,1093.5L194.7,1081.8L173.6,1056L151.6,1030.4L149,984.9L149.6,979L167.2,948.1L181,927.6L185.7,911.4L189.1,876.1L178.3,854.1L162.3,824.7L141.5,786.8L112.9,801.8L77.2,815.4L77.2,773.3L77.2,721.9L77.2,670.5L77.2,644.8L141.5,644.8L205.9,644.8L270.2,644.8L334.6,644.8Z"/>
<path fill="#b8ff00" d="M353.4,644.8L352.3,651.9L351.3,670.5L349.8,682.7L348.1,721.9L398.9,762.9L412,773.3L463.3,815.3L513.2,813.3L527.6,811.2L550.4,809.7L559.8,807.8L559.8,824.7L559.8,876.1L559.8,927.6L559.8,979L559.8,1030.4L559.8,1081.8L559.8,1107.5L543.4,1107.5L527.6,1095L492.5,1093.5L489.8,1107.5L463.3,1107.5L398.9,1107.5L334.6,1107.5L270.2,1107.5L256.6,1107.5L239.8,1095.3L220.8,1081.8L205.9,1070.8L171.2,1030.4L169.5,1001.3L171.9,979L182.6,960.3L204.6,927.6L204.8,926.7L205.9,915.7L214.9,883.3L213.4,876.1L205.9,869.6L181.5,824.7L162.5,790.1L153.5,773.3L141.5,748.1L125.8,760.8L100.4,773.3L86.4,780.7L77.2,784.2L77.2,773.3L77.2,721.9L77.2,670.5L77.2,644.8L141.5,644.8L205.9,644.8L270.2,644.8L334.6,644.8Z"/>
<path fill="#ceff00" d="M351.6,644.8L350.7,651.3L349.6,670.5L348.3,681.5L346.5,721.9L398.9,764.1L410.4,773.3L463.3,816.7L514.8,814.5L527.6,812.6L551.3,811.2L559.8,809.5L559.8,824.7L559.8,876.1L559.8,927.6L559.8,979L559.8,1030.4L559.8,1081.8L559.8,1107.5L545.6,1107.5L527.6,1093.3L487.8,1091.6L484.8,1107.5L463.3,1107.5L398.9,1107.5L334.6,1107.5L284.8,1107.5L270.2,1095.1L251.6,1081.8L205.9,1048L190.7,1030.4L190,1017.7L194.2,979L197.9,972.6L205.9,960.7L225.9,943.6L261.8,927.6L263.3,922L254.1,876.1L205.9,834.3L200.7,824.7L196.7,817.4L173,773.3L152.9,731L148.7,721.9L141.5,701.4L131.1,713.5L123.1,721.9L100.3,740.3L77.2,751.7L77.2,721.9L77.2,670.5L77.2,644.8L141.5,644.8L205.9,644.8L270.2,644.8L334.6,644.8Z"/>
<path fill="#e4ff00" d="M349.9,644.8L349,650.6L347.9,670.5L346.7,680.2L344.9,721.9L398.9,765.4L408.8,773.3L463.3,818L516.4,815.8L527.6,814.1L552.2,812.6L559.8,811.1L559.8,824.7L559.8,876.1L559.8,927.6L559.8,979L559.8,1030.4L559.8,1081.8L559.8,1107.5L547.7,1107.5L527.6,1091.7L483.1,1089.7L479.7,1107.5L463.3,1107.5L398.9,1107.5L334.6,1107.5L310.4,1107.5L289.2,1089.4L280.9,1081.8L270.2,1073.2L212.5,1030.4L218.5,989.1L225.5,979L247.1,960.5L270.2,950.2L283.1,937.9L297.5,927.6L292.2,893.7L295.4,876.1L270.2,848.9L243,824.7L205.9,798.2L192.5,773.3L184.3,756.1L168.4,721.9L153.9,680.4L150.4,670.5L141.5,647.6L125.8,664.2L119.4,670.5L102.2,690.5L77.2,716.7L77.2,670.5L77.2,644.8L141.5,644.8L205.9,644.8L270.2,644.8L334.6,644.8Z"/>
<path fill="#faff00" d="M96.1,644.8L91,650.3L77.2,663.9L77.2,644.8ZM348.2,644.8L347.4,649.9L346.2,670.5L345.2,679L343.3,721.9L398.9,766.7L407.2,773.3L463.3,819.3L518,817L527.6,815.6L553.1,814L559.8,812.7L559.8,824.7L559.8,876.1L559.8,927.6L559.8,979L559.8,1030.4L559.8,1081.8L559.8,1107.5L549.8,1107.5L527.6,1090L478.4,1087.8L474.6,1107.5L463.3,1107.5L398.9,1107.5L337.5,1107.5L334.6,1106L308.1,1081.8L270.2,1051.2L242.1,1030.4L245,1010.2L266.5,979L268.3,977.4L270.2,976.6L298.2,949.9L329.3,927.6L328.5,922.7L334.6,889.8L337.3,878.3L337.7,876.1L334.6,874.4L283.8,824.7L270.2,811.2L218.4,773.3L205.9,760.1L188.1,721.9L181.3,702.2L170,670.5L163.4,653.6L159.5,644.8L205.9,644.8L270.2,644.8L334.6,644.8ZM270.2,724.2L271.3,722.7L270.9,721.9L270.2,721.2L268.2,720.3L266.2,721.9Z"/>
<path fill="#ffef00" d="M346.4,644.8L345.7,649.3L344.5,670.5L343.7,677.8L341.7,721.9L398.9,768L405.6,773.3L463.3,820.6L519.5,818.3L527.6,817.1L554,815.5L559.8,814.3L559.8,824.7L559.8,876.1L559.8,927.6L559.8,979L559.8,1030.4L559.8,1081.8L559.8,1107.5L551.9,1107.5L527.6,1088.3L473.7,1085.9L469.6,1107.5L463.3,1107.5L398.9,1107.5L386.5,1107.5L340,1083.9L335.8,1081.8L334.6,1081.2L271.7,1030.4L290,994.7L295.4,979L313.2,961.9L334.6,946.6L350.6,940.4L379.6,927.6L382.7,914.6L389.6,876.1L334.6,845.8L313.1,824.7L270.2,782.2L258.1,773.3L221.7,734.5L270.2,761.8L288.1,736.2L282.5,721.9L270.2,708.4L234.3,693.2L205.9,716.5L189.5,670.5L186.5,662.8L178.5,644.8L205.9,644.8L270.2,644.8L334.6,644.8Z"/>
<path fill="#ffd900" d="M344.7,644.8L344.1,648.6L342.8,670.5L342.1,676.5L340.1,721.9L398.9,769.3L404,773.3L463.3,821.9L521.1,819.5L527.6,818.6L554.9,816.9L559.8,815.9L559.8,824.7L559.8,876.1L559.8,927.6L559.8,979L559.8,1030.4L559.8,1081.8L559.8,1107.5L554.1,1107.5L527.6,1086.6L469,1084.1L464.5,1107.5L463.3,1107.5L447.5,1107.5L398.9,1087.6L387.7,1081.8L334.6,1056.4L302.4,1030.4L311.7,1012.1L323,979L328.3,973.9L334.6,969.4L369.9,955.8L398.9,942.9L411.9,937.9L435.3,927.6L439.1,908.2L444.3,876.1L398.9,851.6L349.2,824.7L334.6,818L288.4,773.3L304.9,749.7L294.2,721.9L270.2,695.6L210.8,670.5L205.9,663.6L197.5,644.8L205.9,644.8L270.2,644.8L334.6,644.8Z"/>
<path fill="#ffc300" d="M342.9,644.8L342.5,648L341.1,670.5L340.6,675.3L338.5,721.9L398.9,770.6L402.4,773.3L463.3,823.2L522.7,820.8L527.6,820.1L555.8,818.3L559.8,817.5L559.8,824.7L559.8,876.1L559.8,927.6L559.8,979L559.8,1030.4L559.8,1081.8L559.8,1107.5L556.2,1107.5L527.6,1085L464.3,1082.2L463.3,1087.4L449.6,1081.8L398.9,1060.8L338.5,1033.5L334.6,1031.6L333,1030.4L333.5,1029.5L334.6,1026.2L356.3,996.3L369,979L389.2,971.2L398.9,966.9L432.1,954.1L463.3,940.2L471.4,934.1L479.1,927.6L482.5,891.5L484.4,876.1L463.3,857.3L404.1,824.7L398.9,822.4L391.4,818.7L334.6,792.6L314.7,773.3L321.8,763.1L305.8,721.9L270.2,682.8L241.1,670.5L229.5,654.2L222,644.8L270.2,644.8L334.6,644.8Z"/>
<path fill="#ffae00" d="M341.2,644.8L340.8,647.3L339.5,670.5L339,674.1L336.9,721.9L398.9,771.9L400.8,773.3L463.3,824.6L524.2,822L527.6,821.5L556.6,819.7L559.8,819.1L559.8,824.7L559.8,876.1L559.8,927.6L559.8,979L559.8,1030.4L559.8,1081.8L559.8,1107.5L558.3,1107.5L527.6,1083.3L493.3,1081.8L463.3,1060.9L408.6,1038.1L398.9,1034.1L390.7,1030.4L393.7,1026.2L398.9,1019.1L418.2,994.4L429.5,979L452.3,970.2L463.3,965.3L487.5,946.9L510.5,927.6L511.7,914.9L516.6,876.2L463.3,828.7L456,824.7L398.9,799.6L345.7,773.3L334.6,766.2L317.4,721.9L271.8,671.8L271.1,670.5L270.2,669.1L250.9,644.8L270.2,644.8L334.6,644.8Z"/>
<path fill="#ff9800" d="M339.4,644.8L339.2,646.6L337.8,670.5L337.5,672.9L335.3,721.9L398.9,773.1L399.2,773.3L408.5,781L398.9,776.8L391.9,773.3L334.6,736.3L329,721.9L314.2,705.7L293,670.5L279.8,648.6L277,644.8L334.6,644.8ZM559.8,1100.3L531.3,1081.8L527.6,1079.2L501.7,1061.1L463.3,1034.4L453.7,1030.4L457.4,1025.7L463.3,1017.6L475.7,988.9L478.3,979L503.6,959.8L527.6,939.6L532.3,935.1L539.4,927.6L542.3,899.6L540.3,876.1L527.6,857.6L490.6,824.7L525.8,823.3L527.6,823L557.5,821.2L559.8,820.7L559.8,824.7L559.8,876.1L559.8,927.6L559.8,979L559.8,1030.4L559.8,1081.8Z"/>
<path fill="#ff8200" d="M337.7,644.8L337.5,646L336.1,670.5L336,671.6L334.6,703.1L314.9,670.5L308.7,660.2L297.7,644.8L334.6,644.8ZM559.8,878.7L559.6,876.1L527.6,829.3L522.4,824.7L527.4,824.5L527.6,824.5L558.4,822.6L559.8,822.3L559.8,824.7L559.8,876.1ZM559.8,1076.7L553.5,1071.8L527.6,1053.4L494.6,1030.4L503.1,1010.8L511.4,979L519.7,972.6L527.6,966L542.7,951.6L559.8,933.5L559.8,979L559.8,1030.4Z"/>
<path fill="#ff6d00" d="M335.9,644.8L335.9,645.3L334.6,667.5L318.4,644.8L334.6,644.8ZM559.8,842.1L547.7,824.7L559.3,824L559.8,823.9L559.8,824.7ZM559.8,1053L530.7,1030.4L538.7,996.8L541.7,979L553,968.1L559.8,961L559.8,979L559.8,1030.4Z"/>
<g fill="none" stroke="#404040" stroke-width="1.15">
<polyline points="398.7,644.8 395.2,669 395.1,670.5 389.9,714.7 389.6,721.9 398.9,729.5 453.8,773.3 463.3,781.1 472.5,780.7 522.6,773.3 522.6,769.3 501.4,721.9 463.3,690.1 423.7,670.5 400.7,645.5 400.8,644.8"/>
<polyline points="388.3,644.8 385.3,665.1 385,670.5 380.6,707.3 380,721.9 398.9,737.2 444.1,773.3 463.3,789 481.9,788.2 527.6,781.5 532.5,781.2 559.8,775.7"/>
<polyline points="559.8,750.9 544.1,721.9 544.9,698.1 537.7,670.5 527.6,659.7 492.2,644.8"/>
<polyline points="377.8,644.8 375.4,661.1 374.9,670.5 371.4,699.9 370.4,721.9 398.9,744.9 434.5,773.3 463.3,796.9 491.3,795.7 527.6,790.4 537.9,789.8 559.8,785.3"/>
<polyline points="367.3,644.8 365.5,657.2 364.7,670.5 362.1,692.5 360.9,721.9 398.9,752.6 424.9,773.3 463.3,804.8 500.7,803.3 527.6,799.3 543.2,798.3 559.8,795"/>
<polyline points="77.2,933.9 89.2,937.1 141.5,954 151.9,935.8 157.5,927.6 166.6,896.2 168.5,876.1 144.3,827 143.1,824.7 141.5,821.8 139.4,823 134.8,824.7 99.6,842.7 77.2,851.4"/>
<polyline points="356.9,644.8 355.6,653.2 354.6,670.5 352.9,685.2 351.3,721.9 398.9,760.3 415.2,773.3 463.3,812.7 510.1,810.8 527.6,808.2 548.6,806.9 559.8,804.6"/>
<polyline points="539.2,1107.5 527.6,1098.3 501.9,1097.2 500,1107.5"/>
<polyline points="197.1,1107.5 192.4,1102.1 173,1081.8 141.5,1043.3 96.8,1046.1 77.2,1047.2"/>
<polyline points="346.4,644.8 345.7,649.3 344.5,670.5 343.7,677.8 341.7,721.9 398.9,768 405.6,773.3 463.3,820.6 519.5,818.3 527.6,817.1 554,815.5 559.8,814.3"/>
<polyline points="551.9,1107.5 527.6,1088.3 473.7,1085.9 469.6,1107.5"/>
<polyline points="386.5,1107.5 340,1083.9 335.8,1081.8 334.6,1081.2 271.7,1030.4 290,994.7 295.4,979 313.2,961.9 334.6,946.6 350.6,940.4 379.6,927.6 382.7,914.6 389.6,876.1 334.6,845.8 313.1,824.7 270.2,782.2 258.1,773.3 221.7,734.5 270.2,761.8 288.1,736.2 282.5,721.9 270.2,708.4 234.3,693.2 205.9,716.5 189.5,670.5 186.5,662.8 178.5,644.8"/>
<polyline points="335.9,644.8 335.9,645.3 334.6,667.5 318.4,644.8"/>
<polyline points="559.8,842.1 547.7,824.7 559.3,824 559.8,823.9"/>
<polyline points="559.8,1053 530.7,1030.4 538.7,996.8 541.7,979 553,968.1 559.8,961"/>
</g>
</g>
<g stroke="#000" stroke-width="2.2" fill="none">
<rect x="77.2" y="644.8" width="482.5" height="462.7"/>
<path d="M68.4,644.8 H77.2"/>
<path d="M68.4,683.4 H77.2"/>
<path d="M68.4,747.6 H77.2"/>
<path d="M68.4,811.9 H77.2"/>
<path d="M68.4,876.1 H77.2"/>
<path d="M68.4,940.4 H77.2"/>
<path d="M68.4,1004.7 H77.2"/>
<path d="M68.4,1068.9 H77.2"/>
<path d="M68.4,1107.5 H77.2"/>
<path d="M72.8,651.2 H77.2"/>
<path d="M72.8,715.5 H77.2"/>
<path d="M72.8,779.8 H77.2"/>
<path d="M72.8,844 H77.2"/>
<path d="M72.8,908.3 H77.2"/>
<path d="M72.8,972.5 H77.2"/>
<path d="M72.8,1036.8 H77.2"/>
<path d="M72.8,1101.1 H77.2"/>
<path d="M109.4,1107.5 V1116.3"/>
<path d="M189.8,1107.5 V1116.3"/>
<path d="M270.2,1107.5 V1116.3"/>
<path d="M350.7,1107.5 V1116.3"/>
<path d="M431.1,1107.5 V1116.3"/>
<path d="M511.5,1107.5 V1116.3"/>
<path d="M149.6,1107.5 V1112"/>
<path d="M230,1107.5 V1112"/>
<path d="M310.4,1107.5 V1112"/>
<path d="M390.9,1107.5 V1112"/>
<path d="M471.3,1107.5 V1112"/>
<path d="M551.7,1107.5 V1112"/>
</g>
<g font-family="Liberation Serif, serif" font-size="19" fill="#000">
<text x="61.5" y="653.1" text-anchor="end">360</text>
<text x="61.5" y="691.7" text-anchor="end">300</text>
<text x="61.5" y="755.9" text-anchor="end">200</text>
<text x="61.5" y="820.2" text-anchor="end">100</text>
<text x="61.5" y="884.4" text-anchor="end">0</text>
<text x="61.5" y="948.7" text-anchor="end">−100</text>
<text x="61.5" y="1013" text-anchor="end">−200</text>
<text x="61.5" y="1077.2" text-anchor="end">−300</text>
<text x="61.5" y="1115.8" text-anchor="end">−360</text>
<text x="109.4" y="1140.5" text-anchor="middle">−200</text>
<text x="189.8" y="1140.5" text-anchor="middle">−100</text>
<text x="270.2" y="1140.5" text-anchor="middle">0</text>
<text x="350.7" y="1140.5" text-anchor="middle">100</text>
<text x="431.1" y="1140.5" text-anchor="middle">200</text>
<text x="511.5" y="1140.5" text-anchor="middle">300</text>
</g>
<rect x="573.2" y="1093.9" width="31.4" height="10" fill="#0000ff"/>
<rect x="573.2" y="1084.4" width="31.4" height="10" fill="#0016ff"/>
<rect x="573.2" y="1075" width="31.4" height="10" fill="#002bff"/>
<rect x="573.2" y="1065.5" width="31.4" height="10" fill="#0041ff"/>
<rect x="573.2" y="1056.1" width="31.4" height="10" fill="#0057ff"/>
<rect x="573.2" y="1046.6" width="31.4" height="10" fill="#006dff"/>
<rect x="573.2" y="1037.2" width="31.4" height="10" fill="#0082ff"/>
<rect x="573.2" y="1027.7" width="31.4" height="10" fill="#0098ff"/>
<rect x="573.2" y="1018.3" width="31.4" height="10" fill="#00aeff"/>
<rect x="573.2" y="1008.8" width="31.4" height="10" fill="#00c3ff"/>
<rect x="573.2" y="999.4" width="31.4" height="10" fill="#00d9ff"/>
<rect x="573.2" y="989.9" width="31.4" height="10" fill="#00efff"/>
<rect x="573.2" y="980.5" width="31.4" height="10" fill="#00fffa"/>
<rect x="573.2" y="971.1" width="31.4" height="10" fill="#00ffe4"/>
<rect x="573.2" y="961.6" width="31.4" height="10" fill="#00ffce"/>
<rect x="573.2" y="952.2" width="31.4" height="10" fill="#00ffb8"/>
<rect x="573.2" y="942.7" width="31.4" height="10" fill="#00ffa3"/>
<rect x="573.2" y="933.3" width="31.4" height="10" fill="#00ff8d"/>
<rect x="573.2" y="923.8" width="31.4" height="10" fill="#00ff77"/>
<rect x="573.2" y="914.4" width="31.4" height="10" fill="#00ff62"/>
<rect x="573.2" y="904.9" width="31.4" height="10" fill="#00ff4c"/>
<rect x="573.2" y="895.5" width="31.4" height="10" fill="#00ff36"/>
<rect x="573.2" y="886" width="31.4" height="10" fill="#00ff21"/>
<rect x="573.2" y="876.6" width="31.4" height="10" fill="#00ff0b"/>
<rect x="573.2" y="867.2" width="31.4" height="10" fill="#0bff00"/>
<rect x="573.2" y="857.7" width="31.4" height="10" fill="#21ff00"/>
<rect x="573.2" y="848.3" width="31.4" height="10" fill="#36ff00"/>
<rect x="573.2" y="838.8" width="31.4" height="10" fill="#4cff00"/>
<rect x="573.2" y="829.4" width="31.4" height="10" fill="#62ff00"/>
<rect x="573.2" y="819.9" width="31.4" height="10" fill="#77ff00"/>
<rect x="573.2" y="810.5" width="31.4" height="10" fill="#8dff00"/>
<rect x="573.2" y="801" width="31.4" height="10" fill="#a3ff00"/>
<rect x="573.2" y="791.6" width="31.4" height="10" fill="#b8ff00"/>
<rect x="573.2" y="782.1" width="31.4" height="10" fill="#ceff00"/>
<rect x="573.2" y="772.7" width="31.4" height="10" fill="#e4ff00"/>
<rect x="573.2" y="763.2" width="31.4" height="10" fill="#faff00"/>
<rect x="573.2" y="753.8" width="31.4" height="10" fill="#ffef00"/>
<rect x="573.2" y="744.4" width="31.4" height="10" fill="#ffd900"/>
<rect x="573.2" y="734.9" width="31.4" height="10" fill="#ffc300"/>
<rect x="573.2" y="725.5" width="31.4" height="10" fill="#ffae00"/>
<rect x="573.2" y="716" width="31.4" height="10" fill="#ff9800"/>
<rect x="573.2" y="706.6" width="31.4" height="10" fill="#ff8200"/>
<rect x="573.2" y="697.1" width="31.4" height="10" fill="#ff6d00"/>
<rect x="573.2" y="687.7" width="31.4" height="10" fill="#ff5700"/>
<rect x="573.2" y="678.2" width="31.4" height="10" fill="#ff4100"/>
<rect x="573.2" y="668.8" width="31.4" height="10" fill="#ff2b00"/>
<rect x="573.2" y="659.3" width="31.4" height="10" fill="#ff1600"/>
<rect x="573.2" y="649.9" width="31.4" height="10" fill="#ff0000"/>
<rect x="573.2" y="649.9" width="31.4" height="453.4" fill="none" stroke="#000" stroke-width="1.6"/>
<g stroke="#000" stroke-width="1.6">
<path d="M604.6,649.9 H613"/>
<path d="M604.6,706.6 H613"/>
<path d="M604.6,763.2 H613"/>
<path d="M604.6,819.9 H613"/>
<path d="M604.6,876.6 H613"/>
<path d="M604.6,933.3 H613"/>
<path d="M604.6,989.9 H613"/>
<path d="M604.6,1046.6 H613"/>
<path d="M604.6,1103.3 H613"/>
</g>
<g font-family="Liberation Serif, serif" font-size="15.5" fill="#000">
<text x="618.3" y="655.2">815.<tspan dx="4.3">6</tspan></text>
<text x="618.3" y="711.9">814.<tspan dx="4.3">2</tspan></text>
<text x="618.3" y="768.5">812.<tspan dx="4.3">8</tspan></text>
<text x="618.3" y="825.2">811.<tspan dx="4.3">4</tspan></text>
<text x="618.3" y="881.9">810.<tspan dx="4.3">0</tspan></text>
<text x="618.3" y="938.6">808.<tspan dx="4.3">6</tspan></text>
<text x="618.3" y="995.2">807.<tspan dx="4.3">1</tspan></text>
<text x="618.3" y="1051.9">805.<tspan dx="4.3">7</tspan></text>
<text x="618.3" y="1108.6">804.<tspan dx="4.3">3</tspan></text>
</g>
<text font-family="Liberation Serif, serif" transform="translate(679.3,890.3) rotate(-90)" font-size="24.12" text-anchor="middle">Cylinder temperature after cylinder deactivation (K)</text>
<text font-family="Liberation Serif, serif" transform="translate(18,868) rotate(-90)" font-size="23.6" text-anchor="middle">Exhaust valve closing time (°CA ATDC)</text>
<text font-family="Liberation Serif, serif" x="318" y="1176.3" font-size="23.85" text-anchor="middle">Intake valve closing time (°CA ATDC)</text>
<text font-family="Liberation Serif, serif" x="346.5" y="1208.8" font-size="29.85" text-anchor="middle">(b) Cylinder temperature contour map</text>
</svg></body></html>
